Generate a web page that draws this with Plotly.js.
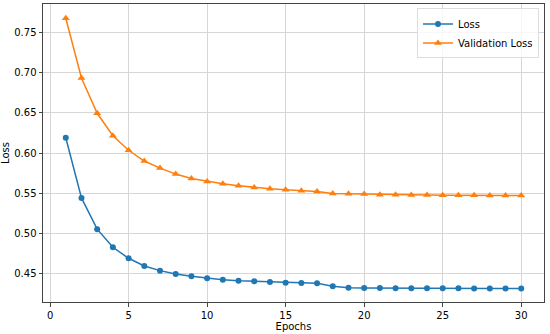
<!DOCTYPE html>
<html>
<head>
<meta charset="utf-8">
<script src="https://cdn.plot.ly/plotly-3.0.1.min.js"></script>
<style>html,body{margin:0;padding:0;background:#fff;}#chart{width:550px;height:334px;}</style>
</head>
<body>
<div id="chart"></div>
<script>
const epochs = [1,2,3,4,5,6,7,8,9,10,11,12,13,14,15,16,17,18,19,20,21,22,23,24,25,26,27,28,29,30];
const loss = [0.619,0.544,0.505,0.4824,0.4687,0.4591,0.4533,0.4491,0.4462,0.4438,0.4420,0.4408,0.4400,0.4391,0.4383,0.4380,0.4375,0.4338,0.4320,0.4318,0.4316,0.4315,0.4314,0.4313,0.4312,0.4312,0.4311,0.4311,0.4310,0.4310];
const valLoss = [0.768,0.6935,0.6495,0.6216,0.6034,0.5900,0.5812,0.5737,0.5683,0.5646,0.5617,0.5592,0.5571,0.5555,0.5542,0.5530,0.5521,0.5496,0.5492,0.5488,0.5480,0.5478,0.5476,0.5475,0.5474,0.5473,0.5472,0.5471,0.5470,0.5469];
const xTicks = [0,5,10,15,20,25,30];
const yTicks = [0.45,0.50,0.55,0.60,0.65,0.70,0.75];

const font = {family: 'DejaVu Sans, sans-serif', size: 10, color: '#000'};
const traces = [
  {x: epochs, y: loss, name: 'Loss', mode: 'lines+markers', line: {color: '#1f77b4', width: 1.5}, marker: {symbol: 'circle', size: 6, color: '#1f77b4'}},
  {x: epochs, y: valLoss, name: 'Validation Loss', mode: 'lines+markers', line: {color: '#ff7f0e', width: 1.5}, marker: {symbol: 'triangle-up', size: 7, color: '#ff7f0e'}}
];
const axisCommon = {showline: true, mirror: true, linecolor: '#444', linewidth: 1, ticks: 'outside', ticklen: 3.5, tickcolor: '#444', showgrid: true, gridcolor: '#d6d6d6', gridwidth: 1, zeroline: false, tickfont: font};
const layout = {
  width: 550, height: 334,
  margin: {l: 43, r: 6, t: 4, b: 32},
  paper_bgcolor: '#fff', plot_bgcolor: '#fff',
  font: font,
  showlegend: true,
  legend: {x: 0.99, xanchor: 'right', y: 0.985, yanchor: 'top', bgcolor: 'rgba(255,255,255,0.8)', bordercolor: '#ddd', borderwidth: 1, font: font, tracegroupgap: 0},
  xaxis: Object.assign({}, axisCommon, {range: [-0.45, 31.45], tickvals: xTicks, ticktext: xTicks.map(String), title: {text: 'Epochs', font: font, standoff: 2}}),
  yaxis: Object.assign({}, axisCommon, {range: [0.4142, 0.7858], tickvals: yTicks, ticktext: yTicks.map(v => v.toFixed(2)), title: {text: 'Loss', font: font, standoff: 4}})
};
Plotly.newPlot('chart', traces, layout, {staticPlot: true, displayModeBar: false});
</script>
</body>
</html>
